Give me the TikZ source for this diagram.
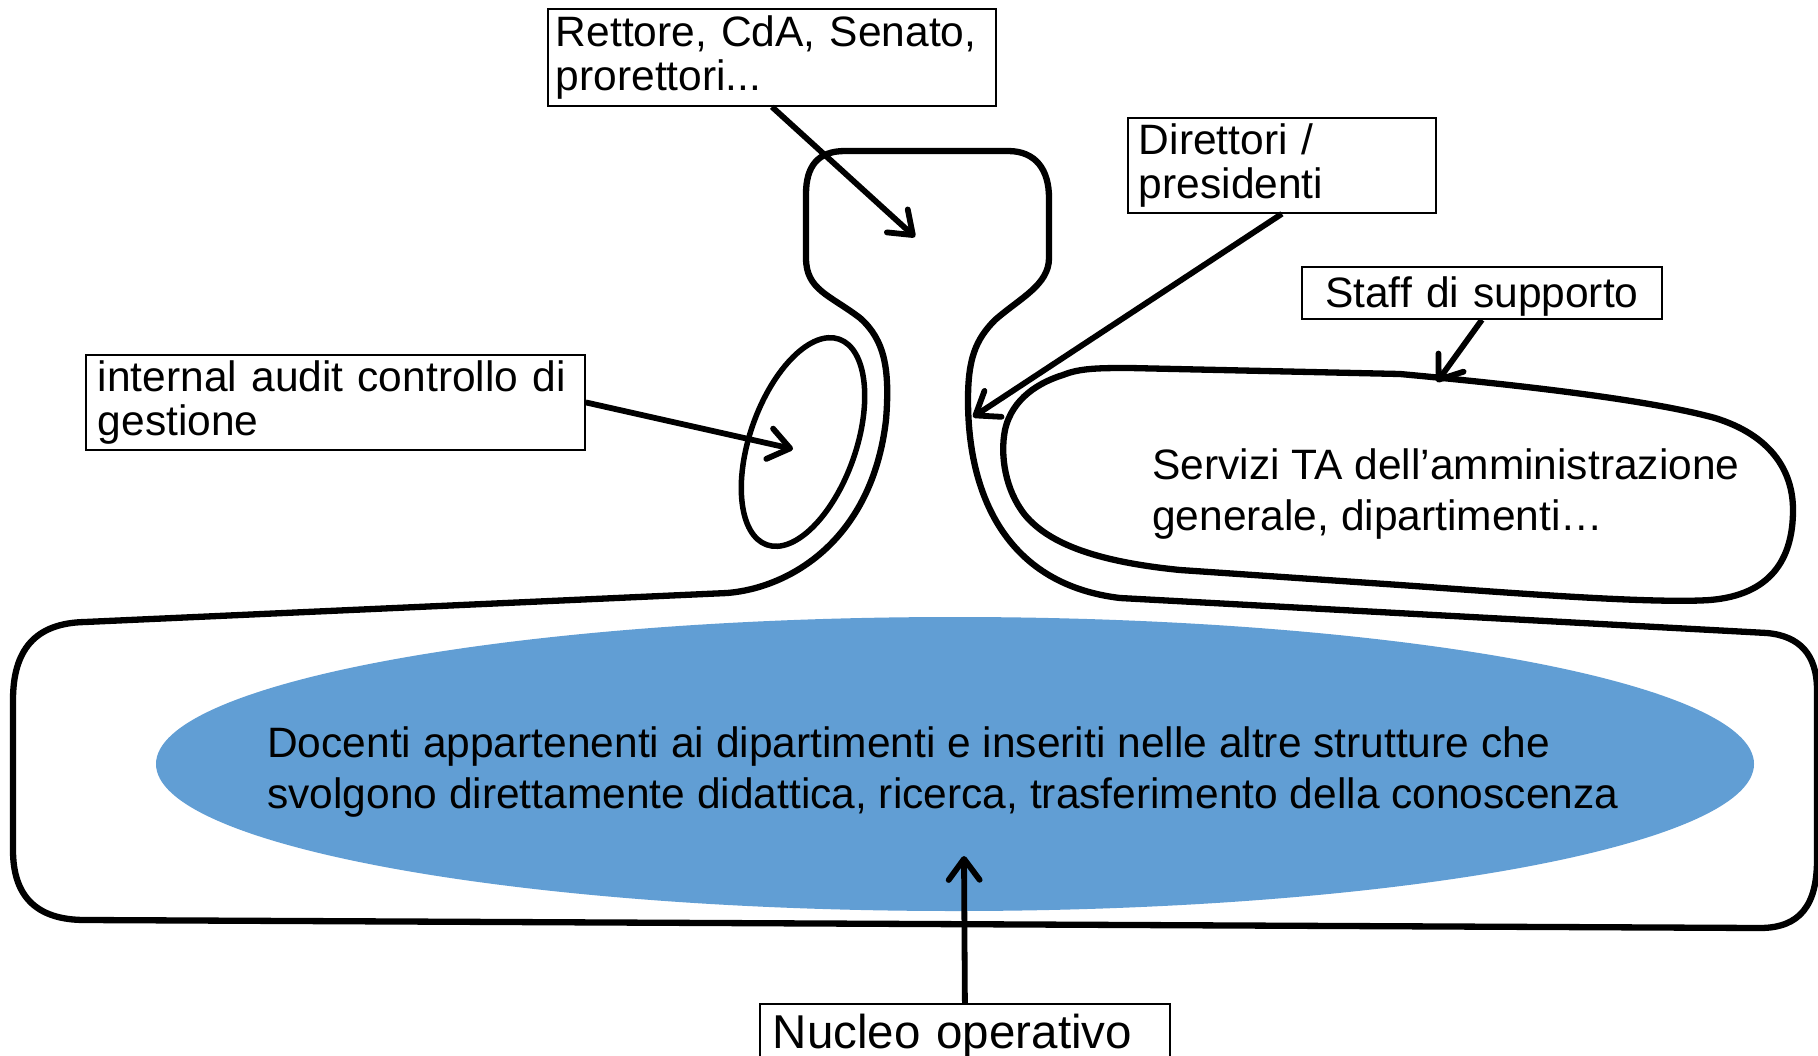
\documentclass[tikz,border=0pt]{standalone}
\usepackage{fontspec}
\setmainfont{Liberation Sans}
\usetikzlibrary{arrows.meta}
\definecolor{docblue}{RGB}{97,158,212}
\begin{document}
\begin{tikzpicture}[x=1pt,y=-1pt,
  outline/.style={line width=6.3pt, line join=round},
  lbl/.style={draw, line width=1.8pt, fill=white, anchor=north west, align=left, inner ysep=0pt, font=\fontsize{42.5}{44}\selectfont},
  txt/.style={anchor=base west, align=left, inner sep=0pt, font=\fontsize{42.5}{51}\selectfont},
  arr/.style={line width=5.8pt, -{Straight Barb[length=21pt,width=31pt,round]}}
]
\useasboundingbox (0,0) rectangle (1818,1055);
\clip (0,0) rectangle (1818,1055);
\fill[white] (0,0) rectangle (1818,1055);

% blue core
\fill[docblue] (955,764) ellipse (799pt and 147pt);

% main outline
\draw[outline] (845,151) -- (1008,151)
 .. controls (1036,151) and (1049,170) .. (1049,198)
 -- (1049,258)
 .. controls (1049,285) and (1020,298) .. (995,320)
 .. controls (975,340) and (968,360) .. (968,400)
 .. controls (968,500) and (1010,585) .. (1120,598)
 -- (1767,633)
 .. controls (1800,636) and (1817,655) .. (1817,690)
 -- (1817,860)
 .. controls (1817,905) and (1800,928) .. (1760,928)
 -- (85,920)
 .. controls (35,920) and (13,895) .. (13,850)
 -- (13,700)
 .. controls (13,650) and (35,623) .. (85,622)
 -- (727,593)
 .. controls (790,588) and (872,540) .. (886,420)
 .. controls (890,370) and (885,340) .. (860,318)
 .. controls (830,295) and (806,290) .. (806,258)
 -- (806,194)
 .. controls (806,166) and (818,151) .. (845,151)
 -- cycle;

% support staff shape
\draw[outline] (1063,375) .. controls (1080,368) and (1100,368) .. (1130,368)
 -- (1400,374)
 .. controls (1520,385) and (1650,400) .. (1715,418)
 .. controls (1770,435) and (1793,470) .. (1793,510)
 .. controls (1793,560) and (1770,595) .. (1710,600)
 .. controls (1650,604) and (1500,592) .. (1400,585)
 -- (1180,570)
 .. controls (1100,562) and (1050,545) .. (1025,515)
 .. controls (1005,490) and (1000,455) .. (1005,430)
 .. controls (1012,398) and (1040,382) .. (1063,375)
 -- cycle;

% technostructure ellipse
\draw[line width=5.5pt, rotate around={70.6:(803,442)}] (803,442) ellipse (109pt and 53pt);

% texts in shapes (anchored at the baseline of the last line)
\node[txt] (docenti) at (267,808) {Docenti appartenenti ai dipartimenti e inseriti nelle altre strutture che\\svolgono direttamente didattica, ricerca, trasferimento della conoscenza};
\node[txt] (servizi) at (1152,530) {Servizi TA dell’amministrazione\\generale, dipartimenti…};

% label boxes
\node[lbl, text width=432pt, inner xsep=8pt, minimum height=97pt] (rettore) at (547,8) {Rettore, CdA, Senato,\\prorettori...};
\node[lbl, text width=286pt, inner xsep=11pt, minimum height=95pt] (direttori) at (1127,117) {Direttori /\\presidenti};
\node[lbl, align=center, text width=340pt, inner xsep=10pt, minimum height=52pt, text height=37pt, text depth=7pt] (staff) at (1301,266) {Staff di supporto};
\node[lbl, text width=475pt, inner xsep=12pt, minimum height=95pt] (audit) at (85,354) {internal audit controllo di\\gestione};
\node[lbl, text width=384pt, inner xsep=13pt, minimum height=64pt, font=\fontsize{47.5}{49}\selectfont] (nucleo) at (759,1003) {Nucleo operativo};

% arrow targets
\coordinate (tipR) at (915,237);
\coordinate (tipD) at (973,417);
\coordinate (tipS) at (1437,382);
\coordinate (tipA) at (793,449);
\coordinate (tipN) at (964,856);

\draw[arr] (rettore.south) -- (tipR);
\draw[arr] (direttori.south) -- (tipD);
\draw[arr] (staff.south) -- (tipS);
\draw[arr] (audit.east) -- (tipA);
\draw[arr] (nucleo.north) -- (tipN);
\end{tikzpicture}
\end{document}
